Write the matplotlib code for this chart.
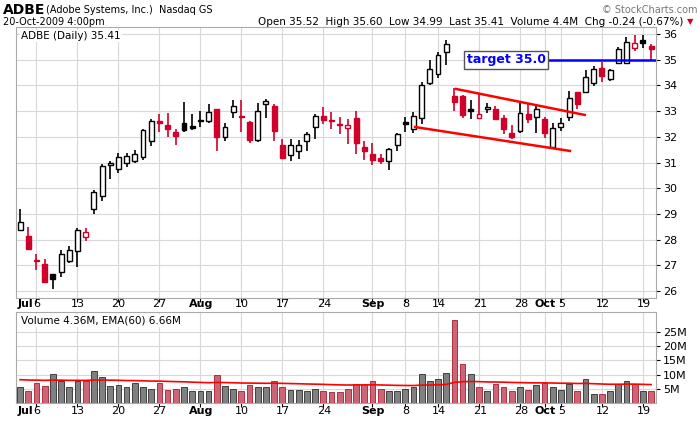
import matplotlib
matplotlib.use("Agg")
import matplotlib.pyplot as plt
import numpy as np

opens = [28.37,28.15,27.2,27.07,26.67,26.75,27.17,27.56,28.1,29.19,29.7,30.9,30.74,31.0,31.05,31.2,31.82,32.62,32.45,32.18,
         32.52,32.38,32.6,32.6,33.1,32.0,32.98,32.81,32.57,31.86,33.29,33.19,31.7,31.28,31.43,31.82,32.39,32.79,32.63,32.5,
         32.36,32.74,31.59,31.33,31.17,31.05,31.68,32.53,32.3,32.73,34.1,34.44,35.28,33.6,33.58,33.07,32.74,33.09,33.07,32.73,
         32.14,32.22,32.9,32.78,32.68,31.62,32.4,32.78,33.76,33.73,34.1,34.67,34.25,34.87,34.87,35.45,35.77,35.52]
closes = [28.68,27.63,27.15,26.35,26.48,27.45,27.6,28.37,28.3,29.85,30.85,31.0,31.2,31.24,31.32,32.28,32.6,32.54,32.3,32.05,
          32.25,32.36,32.67,32.98,32.0,32.4,33.21,32.77,31.88,33.02,33.41,32.23,31.19,31.7,31.7,32.09,32.79,32.65,32.6,32.45,
          32.44,31.74,31.43,31.1,31.05,31.52,32.1,32.51,32.81,34.03,34.64,35.19,35.6,33.35,32.85,32.99,32.87,33.12,32.7,32.32,
          32.0,32.94,32.7,33.07,32.16,32.36,32.55,33.52,33.26,34.31,34.64,34.35,34.58,35.41,35.7,35.64,35.64,35.41]
highs = [29.2,28.5,27.45,27.25,26.67,27.6,27.75,28.45,28.45,29.94,30.93,31.06,31.37,31.37,31.48,32.32,32.68,32.88,32.92,32.3,
         33.34,32.87,33.0,33.26,33.1,32.53,33.45,33.45,32.6,33.3,33.46,33.26,31.9,31.9,31.86,32.17,32.87,33.17,32.95,32.76,
         32.68,33.0,31.82,31.74,31.32,31.56,32.14,32.78,32.96,34.13,35.0,35.29,35.77,33.9,33.62,33.45,33.68,33.3,33.2,32.83,
         32.45,33.3,33.26,33.22,32.78,32.55,32.74,33.77,33.76,34.61,34.76,34.9,34.64,35.49,35.87,35.94,35.94,35.6]
lows = [28.37,27.6,26.8,26.3,26.08,26.55,27.1,26.93,27.94,28.98,29.52,30.37,30.6,30.84,31.0,31.1,31.66,32.2,32.0,31.7,
        32.17,32.25,32.4,32.54,31.46,31.85,32.74,32.19,31.77,31.8,32.74,31.85,31.12,31.07,31.13,31.46,31.92,32.5,32.3,32.12,
        31.72,31.35,31.1,30.92,30.94,30.72,31.46,32.2,32.13,32.51,34.0,34.29,34.8,33.0,32.74,32.7,32.7,32.94,32.68,32.09,
        31.9,32.13,32.55,32.14,31.97,31.62,32.23,32.62,33.07,33.71,33.97,34.12,34.16,34.84,34.87,35.32,35.45,34.99]
volumes = [5.5,4.1,7.2,6.0,10.3,7.8,5.8,7.8,7.8,11.3,9.2,6.0,6.4,5.5,7.2,5.7,5.0,7.2,4.7,5.0,5.5,4.1,4.3,4.3,9.9,6.0,5.0,4.3,6.4,5.8,
           5.8,7.8,5.5,4.7,4.7,4.3,5.0,4.3,3.7,3.7,5.0,6.7,6.7,7.6,5.0,4.1,4.1,5.0,5.8,10.3,7.6,8.3,10.7,29.1,13.7,10.3,5.7,4.1,6.7,5.7,
           4.3,5.7,4.7,6.4,7.2,5.7,4.7,6.6,4.1,8.5,3.3,3.3,4.3,6.7,7.8,6.7,4.1,4.1]
tick_idx = [2,7,12,17,22,27,32,37,43,47,51,56,61,64,66,71,76]
tick_lbl = ["Jul","6","13","20","27","Aug","10","17","24","Sep","8","14","21","28","Oct","5","12","19"]
tick_lbl = ["6","13","20","27","Aug","10","17","24","Sep","8","14","21","28","Oct","5","12","19"]
bold_lbl = {"Aug","Sep","Oct"}

RED = "#d0002a"
fig = plt.figure(figsize=(7,4.21), dpi=100)
W,H = 700,421
def rect(l,t,r,b): return [l/W, 1-b/H, (r-l)/W, (b-t)/H]
ax = fig.add_axes(rect(16,27,656,298))
av = fig.add_axes(rect(16,312,656,403))
n = len(closes)
x = np.arange(n)
prev = [opens[0]] + closes[:-1]
for i in range(n):
    o,c,h,l = opens[i],closes[i],highs[i],lows[i]
    col = "black" if (i==0 or c>=prev[i]) else RED
    ax.vlines(i, l, h, color=col, lw=1.2, zorder=3)
    lo_, hi_ = min(o,c), max(o,c)
    if hi_-lo_ < 0.05: hi_ = lo_+0.05
    face = "white" if c>o else col
    ax.bar(i, hi_-lo_, bottom=lo_, width=0.6, color=face, edgecolor=col, lw=1.0, zorder=4)
    vcol = "#808080" if (i==0 or c>=prev[i]) else "#cc6677"
    vedge = "#404040" if vcol=="#808080" else "#b03040"
    av.bar(i, volumes[i], width=0.7, color=vcol, edgecolor=vedge, lw=0.7, zorder=3)
ema=[8.2]; k=2/61
for v in volumes[1:]: ema.append(ema[-1]+k*(v-ema[-1]))
av.plot(x, ema, color="red", lw=1.2, zorder=4)

ax.plot([53.2,68.9],[33.86,32.85], color="red", lw=1.8, zorder=5)
ax.plot([48.2,67.1],[32.38,31.45], color="red", lw=1.8, zorder=5)
ax.plot([64.0,77.6],[35.0,35.0], color="blue", lw=1.8, zorder=5)
ax.text(54.5,35.0,"target 35.0", color="blue", fontsize=9, fontweight="bold", va="center", zorder=6,
        bbox=dict(boxstyle="square,pad=0.2", fc="white", ec="#555555", lw=1))

for a in (ax,av):
    a.set_xlim(-0.5,77.6)
    a.set_xticks(tick_idx)
    a.grid(True, color="#d8d8d8", lw=0.8, zorder=0)
    a.yaxis.tick_right()
    a.tick_params(axis="y", labelsize=8, length=3, pad=2)
    a.tick_params(axis="x", length=3, labelsize=8, pad=1)
    for s in a.spines.values(): s.set_color("#aaaaaa")
ax.set_ylim(25.73,36.27)
ax.set_yticks(range(26,37))
ax.set_xticklabels([])
av.set_ylim(0,32)
av.set_yticks([5,10,15,20,25]); av.set_yticklabels(["5M","10M","15M","20M","25M"])
av.set_xticklabels([])
for ypx in (304,411):
    for i,lab in zip(tick_idx,tick_lbl):
        fig.text((16+(i+0.5)*8.21)/W, 1-ypx/H, lab, fontsize=8, ha="center", va="center",
                 fontweight="bold" if lab in bold_lbl else "normal")
    fig.text(18/W, 1-ypx/H, "Jul", fontsize=8, fontweight="bold", va="center")

fig.text(3/W,1-10/H,"ADBE",fontsize=10,fontweight="bold",va="center")
fig.text(46/W,1-10/H,"(Adobe Systems, Inc.)  Nasdaq GS",fontsize=7,va="center")
fig.text(3/W,1-22/H,"20-Oct-2009 4:00pm",fontsize=7,va="center")
fig.text(697/W,1-10/H,"© StockCharts.com",fontsize=7,color="#777777",ha="right",va="center")
fig.text(683/W,1-22/H,"Open 35.52  High 35.60  Low 34.99  Last 35.41  Volume 4.4M  Chg -0.24 (-0.67%)",
         fontsize=7.5,ha="right",va="center")
fig.text(693/W,1-22/H,"▼",fontsize=6,color=RED,ha="right",va="center")
ax.text(0.008,0.985,"ADBE (Daily) 35.41",transform=ax.transAxes,fontsize=7.5,va="top",
        bbox=dict(fc="white",ec="none",pad=1))
av.text(0.008,0.96,"Volume 4.36M, EMA(60) 6.66M",transform=av.transAxes,fontsize=7.5,va="top",
        bbox=dict(fc="white",ec="none",pad=1))
fig.savefig("out.png", dpi=100)
